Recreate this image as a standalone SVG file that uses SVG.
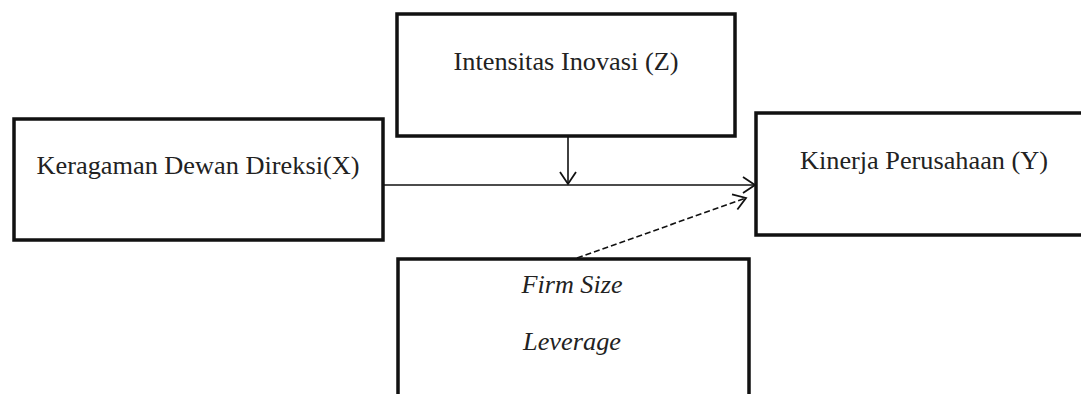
<svg xmlns="http://www.w3.org/2000/svg" width="1081" height="394" viewBox="0 0 1081 394">
<style>
.box{fill:#fff;stroke:#111;stroke-width:3.5}
.t{font-family:"Liberation Serif","Times New Roman",serif;font-size:26px;fill:#222}
.i{font-style:italic}
.c{fill:none;stroke:#111;stroke-width:1.6}
.d{stroke-dasharray:6 3}
</style>
<defs>
<marker id="ah" markerWidth="16" markerHeight="18" refX="13" refY="9" orient="auto" markerUnits="userSpaceOnUse">
<path d="M1,1 L13,9 L1,17" fill="none" stroke="#111" stroke-width="1.8"/>
</marker>
</defs>
<rect width="1081" height="394" fill="#fff"/>
<g id="nodeX">
<rect class="box" x="14" y="119" width="369" height="121"/>
<text class="t" x="198" y="174" text-anchor="middle" textLength="323" lengthAdjust="spacingAndGlyphs">Keragaman Dewan Direksi(X)</text>
</g>
<g id="nodeZ">
<rect class="box" x="397" y="14" width="338" height="122"/>
<text class="t" x="566" y="70" text-anchor="middle" textLength="225" lengthAdjust="spacingAndGlyphs">Intensitas Inovasi (Z)</text>
</g>
<g id="nodeY">
<rect class="box" x="756" y="113" width="330" height="122"/>
<text class="t" x="924" y="169" text-anchor="middle" textLength="248" lengthAdjust="spacingAndGlyphs">Kinerja Perusahaan (Y)</text>
</g>
<g id="nodeControl">
<rect class="box" x="398" y="259" width="351" height="150"/>
<text class="t i" x="572" y="293" text-anchor="middle" textLength="101" lengthAdjust="spacingAndGlyphs">Firm Size</text>
<text class="t i" x="572" y="350" text-anchor="middle" textLength="98" lengthAdjust="spacingAndGlyphs">Leverage</text>
</g>
<g id="connectors">
<line class="c" x1="383" y1="185" x2="755" y2="185" marker-end="url(#ah)"/>
<line class="c" x1="568" y1="137" x2="568" y2="184" marker-end="url(#ah)"/>
<line class="c d" x1="577" y1="258" x2="746" y2="198" marker-end="url(#ah)"/>
</g>
</svg>
